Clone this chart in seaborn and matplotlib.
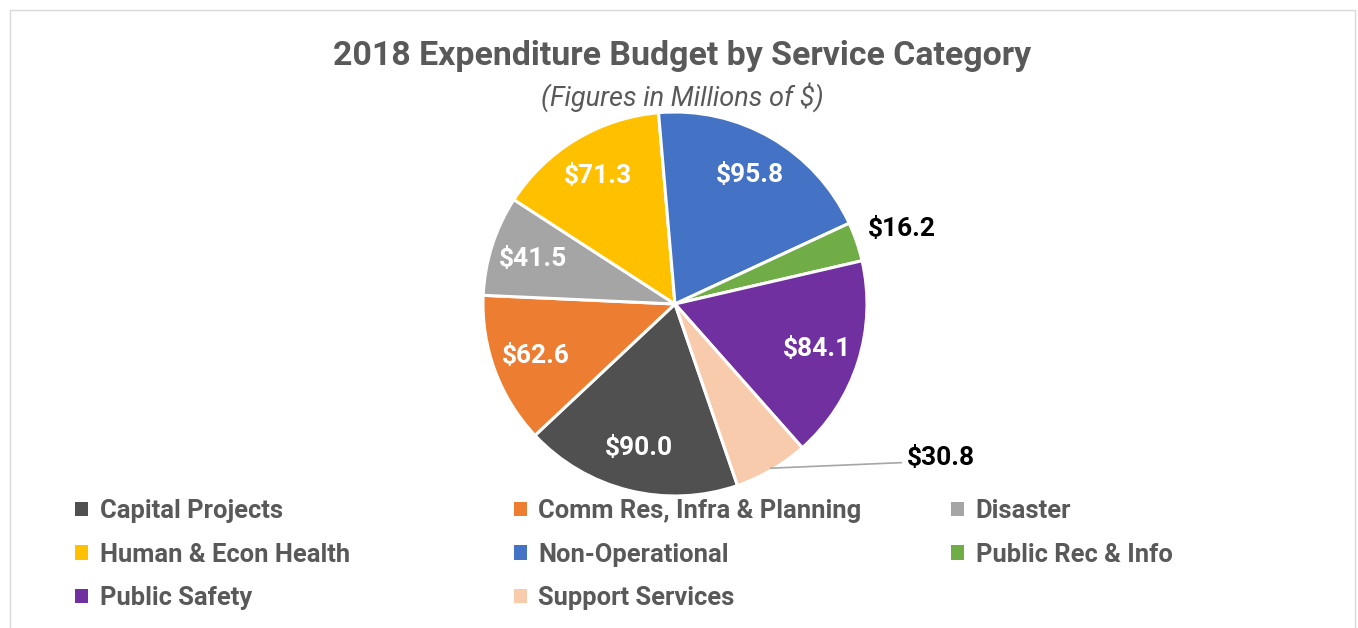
import matplotlib
matplotlib.use("Agg")
import matplotlib.pyplot as plt
import matplotlib.patches as mpatches
import numpy as np
import seaborn as sns

categories = [
    "Capital Projects",
    "Comm Res, Infra & Planning",
    "Disaster",
    "Human & Econ Health",
    "Non-Operational",
    "Public Rec & Info",
    "Public Safety",
    "Support Services",
]
budget = [90.0, 62.6, 41.5, 71.3, 95.8, 16.2, 84.1, 30.8]
colors = ["#505050", "#ED7D31", "#A5A5A5", "#FFC000",
          "#4472C4", "#70AD47", "#7030A0", "#F8CBAD"]

sns.set_theme(style="white")
plt.rcParams["font.family"] = ["Roboto", "DejaVu Sans"]

W, H = 1358, 628
fig = plt.figure(figsize=(W / 100, H / 100), dpi=100)

# light chart-area border
fig.patches.append(mpatches.Rectangle((10 / W, -0.02), 1345 / W, 1.0 - 10 / H + 0.02,
                                      transform=fig.transFigure, fill=False,
                                      edgecolor="#D9D9D9", linewidth=1))

cx, cy, r = 675, 304, 192
ax = fig.add_axes([(cx - r) / W, (H - cy - r) / H, 2 * r / W, 2 * r / H])

wedges, _ = ax.pie(budget, colors=colors, startangle=-71, counterclock=False,
                   wedgeprops=dict(edgecolor="white", linewidth=2.2))
ax.set_xlim(-1, 1)
ax.set_ylim(-1, 1)
ax.set_aspect("equal")
ax.axis("off")

for w, cat, val in zip(wedges, categories, budget):
    ang = np.deg2rad((w.theta1 + w.theta2) / 2)
    ux, uy = np.cos(ang), np.sin(ang)
    label = f"${val:.1f}"
    if cat == "Public Rec & Info":
        ax.text(1.2 * ux + 0.045, 1.2 * uy, label, ha="center", va="center",
                fontsize=19, fontweight="bold", color="black", clip_on=False)
    elif cat == "Support Services":
        ax.annotate(label, xy=(0.99 * ux, 0.99 * uy), xytext=(1.21, -0.8),
                    ha="left", va="center", fontsize=19, fontweight="bold",
                    color="black", annotation_clip=False,
                    arrowprops=dict(arrowstyle="-", color="#A6A6A6", lw=1.2,
                                    shrinkA=2, shrinkB=0, relpos=(0, 0.3)))
    else:
        ax.text(0.775 * ux, 0.775 * uy, label, ha="center", va="center",
                fontsize=19, fontweight="bold", color="white")

fig.text(682 / W, 1 - 56 / H, "2018 Expenditure Budget by Service Category",
         ha="center", va="center", fontsize=24.4, fontweight="bold", color="#595959")
fig.text(682 / W, 1 - 97 / H, "(Figures in Millions of $)",
         ha="center", va="center", fontsize=19.5, fontstyle="italic", color="#595959")

# legend laid out in three fixed-width columns
col_x = [65, 504, 941]
handles = [mpatches.Patch(facecolor=c, edgecolor="none") for c in colors]
for col in range(3):
    idx = list(range(col, len(categories), 3))
    leg = fig.legend([handles[i] for i in idx], [categories[i] for i in idx],
                     loc="upper left", bbox_to_anchor=(col_x[col] / W, 1 - 489 / H),
                     frameon=False, handlelength=0.5, handleheight=0.5,
                     handletextpad=0.45, labelspacing=0.76, borderaxespad=0,
                     prop=dict(size=18.4, weight="bold"))
    for t in leg.get_texts():
        t.set_color("#595959")

fig.savefig("out.png", dpi=100)
